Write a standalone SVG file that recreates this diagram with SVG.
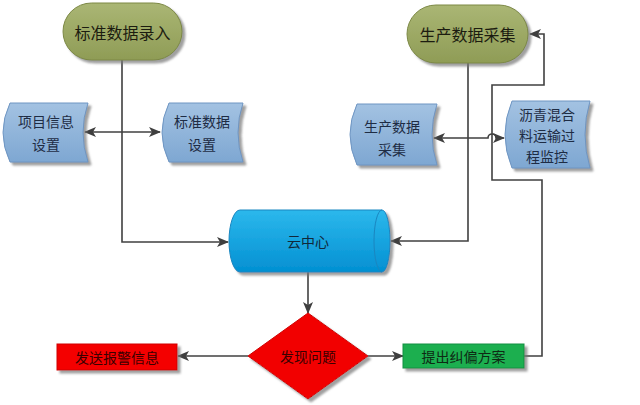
<svg xmlns="http://www.w3.org/2000/svg" width="640" height="405" viewBox="0 0 640 405">
<defs>
<linearGradient id="gPill" x1="0" y1="0" x2="0" y2="1"><stop offset="0" stop-color="#aab674"/><stop offset="1" stop-color="#8f9c56"/></linearGradient>
<linearGradient id="gDoc" x1="0" y1="0" x2="0" y2="1"><stop offset="0" stop-color="#a3c2e2"/><stop offset="1" stop-color="#7ea7d2"/></linearGradient>
<linearGradient id="gCyl" x1="0" y1="0" x2="0" y2="1"><stop offset="0" stop-color="#2cb8ec"/><stop offset="1" stop-color="#0390d2"/></linearGradient>
<filter id="sh" x="-10%" y="-10%" width="130%" height="140%"><feDropShadow dx="3" dy="3" stdDeviation="1.2" flood-color="#777" flood-opacity="0.7"/></filter>
<marker id="ah" viewBox="0 0 12 10" refX="11" refY="5" markerWidth="12" markerHeight="10" markerUnits="userSpaceOnUse" orient="auto-start-reverse"><path d="M0,0 L12,5 L0,10 L3,5 Z" fill="#3f3f3f"/></marker>
</defs>
<style>
.ln{fill:none;stroke:#404040;stroke-width:1.6}
.pill{fill:url(#gPill);stroke:#7c8845;stroke-width:1}
.doc{fill:url(#gDoc);stroke:#6e95c2;stroke-width:1}
.t{font-family:"Noto Sans CJK SC","Noto Sans",sans-serif;text-anchor:middle;dominant-baseline:central}
.tp{font-size:16px;fill:#1c1c10}
.td{font-size:14px;fill:#1e2c44}
</style>
<rect width="640" height="405" fill="#ffffff"/>
<g id="connectors">
<path class="ln" d="M122,60 V242 H228" marker-end="url(#ah)"/>
<path class="ln" d="M468,63 V241 H391" marker-end="url(#ah)"/>
<path class="ln" d="M85,132 H160" marker-start="url(#ah)" marker-end="url(#ah)"/>
<path class="ln" d="M434,138 H488 A4,4 0 0 1 496,138 H504" marker-start="url(#ah)" marker-end="url(#ah)"/>
<path class="ln" d="M308,272 V313" marker-end="url(#ah)"/>
<path class="ln" d="M248,356 H178" marker-end="url(#ah)"/>
<path class="ln" d="M368,356 H403" marker-end="url(#ah)"/>
<path class="ln" d="M524,356 H542 V180 H492 V85 H544 V34 H530" marker-end="url(#ah)"/>
</g>
<g id="node-standard-input">
<rect class="pill" x="63" y="3" width="119" height="57" rx="28.5" filter="url(#sh)"/>
<text class="t tp" x="122.5" y="31.5">标准数据录入</text>
</g>
<g id="node-production-collect">
<rect class="pill" x="407" y="5" width="121" height="58" rx="29" filter="url(#sh)"/>
<text class="t tp" x="467.5" y="34">生产数据采集</text>
</g>
<g id="node-project-info">
<path class="doc" d="M10,103 H88 Q78,132.5 88,162 H10 Q-4,132.5 10,103 Z" filter="url(#sh)"/>
<text class="t td" x="46" y="121">项目信息</text>
<text class="t td" x="46" y="144">设置</text>
</g>
<g id="node-standard-setting">
<path class="doc" d="M169,103 H243 Q233,132.5 243,162 H169 Q155,132.5 169,103 Z" filter="url(#sh)"/>
<text class="t td" x="202" y="121">标准数据</text>
<text class="t td" x="202" y="144">设置</text>
</g>
<g id="node-production-data">
<path class="doc" d="M357,104 H437 Q427,134.5 437,165 H357 Q343,134.5 357,104 Z" filter="url(#sh)"/>
<text class="t td" x="392" y="126">生产数据</text>
<text class="t td" x="392" y="149">采集</text>
</g>
<g id="node-transport-monitor">
<path class="doc" d="M512,101 H590 Q580,134.5 590,168 H512 Q498,134.5 512,101 Z" filter="url(#sh)"/>
<text class="t td" x="547" y="114">沥青混合</text>
<text class="t td" x="547" y="135">料运输过</text>
<text class="t td" x="547" y="156">程监控</text>
</g>
<g id="node-cloud">
<path d="M240,210 H382 A8,31 0 0 1 382,272 H240 A11,31 0 0 1 240,210 Z" fill="url(#gCyl)" stroke="#1a86c0" stroke-width="1" filter="url(#sh)"/>
<path d="M382,210 A8,31 0 0 0 382,272" fill="none" stroke="#1a86c0" stroke-width="1"/>
<text class="t" x="308" y="241" font-size="14" fill="#10283a">云中心</text>
</g>
<g id="node-problem">
<path d="M308,313 L368,356 L308,399 L248,356 Z" fill="#f20000" stroke="#d00000" stroke-width="1" filter="url(#sh)"/>
<text class="t" x="308" y="356" font-size="14" fill="#3a0000">发现问题</text>
</g>
<g id="node-alarm">
<rect x="57" y="344" width="120" height="26" fill="#f40000" stroke="#d00000" stroke-width="1" filter="url(#sh)"/>
<text class="t" x="117" y="357" font-size="14" fill="#3a0000">发送报警信息</text>
</g>
<g id="node-correction">
<rect x="403" y="344" width="121" height="24" fill="#1faf50" stroke="#159040" stroke-width="1" filter="url(#sh)"/>
<text class="t" x="463.5" y="356" font-size="14" fill="#0e2a14">提出纠偏方案</text>
</g>
</svg>
